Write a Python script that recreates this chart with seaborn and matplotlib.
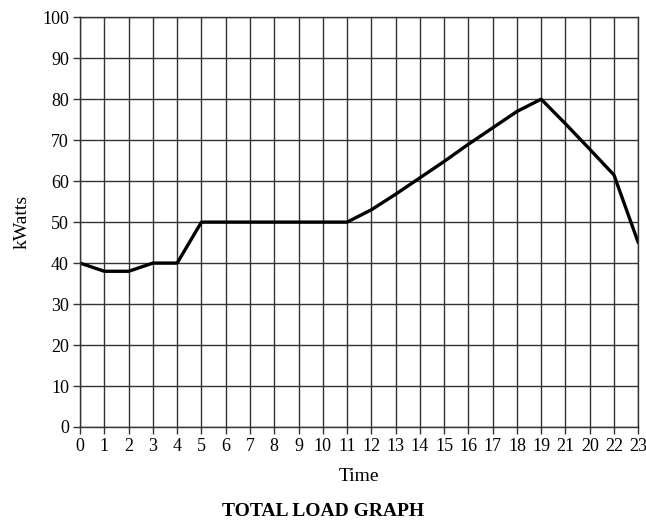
import numpy as np
import matplotlib.pyplot as plt
import pandas as pd
import seaborn as sns

# hourly load
hours = list(range(24))
tick_labels = ['0', '1', '2', '3', '4', '5', '6', '7', '8', '9', '10', '11',
               '12', '13', '14', '15', '16', '17', '18', '19', '21', '20', '22', '23']
kwatts = [40, 38, 38, 40, 40, 50, 50, 50, 50, 50, 50, 50,
          53, 56.8, 60.8, 64.8, 69, 73, 77, 80, 74, 67.8, 61.5, 45]

df = pd.DataFrame({'Time': hours, 'kWatts': kwatts})

sns.set_style('ticks')
plt.rcParams['font.family'] = ['Liberation Serif', 'DejaVu Serif']
plt.rcParams['text.color'] = 'black'
plt.rcParams['axes.labelcolor'] = 'black'
plt.rcParams['xtick.labelcolor'] = 'black'
plt.rcParams['ytick.labelcolor'] = 'black'

fig = plt.figure(figsize=(6.46, 5.22), dpi=100)
ax = fig.add_axes([0.124, 0.182, 0.864, 0.785])

ax.set_xticks(hours)
ax.set_yticks(np.arange(0, 101, 10))
ax.grid(True, color='#333333', linewidth=1.0)
ax.set_axisbelow(True)

sns.lineplot(data=df, x='Time', y='kWatts', color='black', linewidth=2.4, ax=ax)

ax.set_xlim(0, 23)
ax.set_ylim(0, 100)
ax.set_xticklabels(tick_labels)
ax.tick_params(labelsize=13, length=5, width=1, color='#333333', pad=3)
ax.set_xlabel('Time', fontsize=14, labelpad=9)
ax.set_ylabel('kWatts', fontsize=14, labelpad=8)
for s in ax.spines.values():
    s.set_color('#333333')
    s.set_linewidth(1)

fig.text(0.5, 0.012, 'TOTAL LOAD GRAPH', ha='center', fontsize=14, fontweight='bold')

plt.savefig('out.png', dpi=100)
